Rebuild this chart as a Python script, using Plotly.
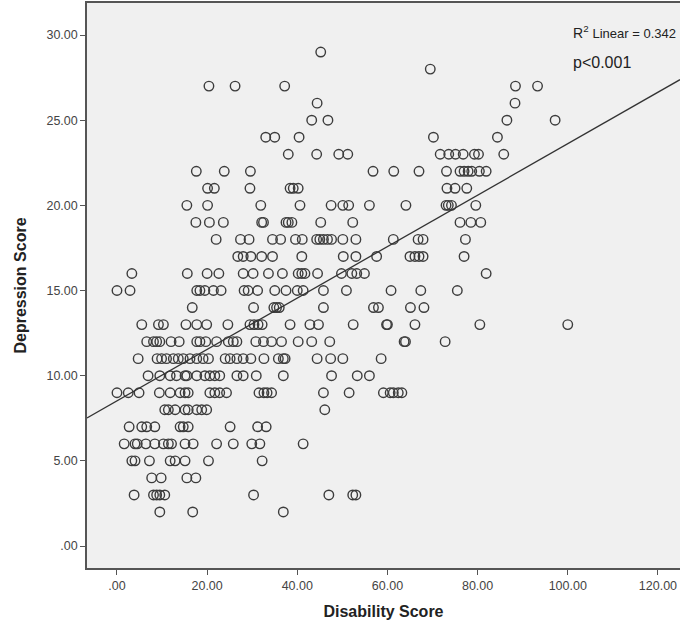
import plotly.graph_objects as go

# Depression score rows (integer values) and the disability scores read for each row
rows = {
    29: [45.2],
    28: [69.5],
    27: [20.4, 26.2, 37.2, 88.4, 93.3],
    26: [44.4, 88.3],
    25: [43.2, 46.8, 86.5, 97.2],
    24: [33.0, 35.0, 40.4, 70.2, 84.4],
    23: [38.0, 44.3, 49.2, 51.2, 71.7, 73.6, 75.1, 76.8, 79.3, 80.2, 85.8],
    22: [17.6, 23.8, 29.6, 56.8, 61.4, 67.0, 73.1, 76.1, 77.0, 77.9, 78.7, 80.4, 81.9],
    21: [20.1, 21.6, 29.5, 38.4, 39.1, 40.2, 73.2, 75.0, 77.6],
    20: [15.5, 20.1, 31.9, 40.6, 47.5, 50.1, 51.4, 56.0, 64.1, 73.0, 73.5, 74.2, 79.6],
    19: [17.5, 20.5, 23.6, 32.1, 32.5, 37.5, 38.0, 38.8, 45.2, 52.3, 76.1, 78.5, 80.7],
    18: [22.0, 27.4, 29.3, 34.5, 36.3, 39.6, 41.1, 44.3, 45.0, 45.8, 46.7, 47.6, 50.1,
         53.0, 61.3, 66.8, 67.9, 77.3],
    17: [26.8, 28.0, 29.7, 32.1, 34.5, 41.0, 50.2, 53.0, 57.6, 65.0, 66.1, 67.0, 67.9, 77.0],
    16: [3.3, 15.6, 20.0, 22.6, 28.0, 30.2, 33.6, 36.7, 40.2, 41.0, 41.7, 44.5, 49.8,
         52.1, 53.2, 54.9, 81.9],
    15: [0.0, 2.9, 17.7, 18.4, 19.5, 21.4, 23.1, 28.2, 29.1, 31.2, 35.0, 37.5, 40.0,
         41.3, 45.8, 50.9, 60.8, 67.4, 75.5],
    14: [16.7, 30.3, 34.8, 35.4, 36.0, 45.8, 56.9, 58.0, 65.1, 68.1],
    13: [5.5, 9.2, 10.3, 15.3, 17.7, 19.9, 24.6, 29.5, 30.4, 31.3, 32.2, 38.4, 42.8,
         44.7, 52.4, 59.8, 60.0, 66.1, 80.5, 100.0],
    12: [6.6, 8.1, 8.8, 9.5, 12.0, 13.8, 17.7, 18.4, 19.7, 22.1, 24.7, 25.8, 26.6, 30.8,
         32.5, 34.3, 36.5, 40.2, 43.2, 47.2, 63.7, 64.0, 72.8],
    11: [4.7, 8.9, 9.9, 11.0, 12.5, 13.6, 14.7, 16.2, 17.7, 19.1, 20.3, 24.0, 25.1, 26.6,
         28.0, 29.7, 32.6, 35.8, 36.9, 37.3, 44.4, 47.4, 50.1, 58.6],
    10: [6.9, 9.5, 11.8, 13.2, 15.1, 15.5, 17.7, 19.5, 20.6, 21.7, 22.8, 26.6, 28.0, 30.9,
         36.9, 47.6, 53.3, 56.0],
    9: [0.0, 2.5, 4.9, 9.4, 11.8, 14.0, 15.1, 15.8, 20.6, 21.7, 22.8, 24.3, 31.5, 32.6,
        33.3, 34.3, 45.8, 51.5, 59.1, 60.6, 61.3, 62.4, 63.2],
    8: [10.6, 11.4, 12.9, 15.1, 15.8, 17.7, 18.8, 19.9, 46.1],
    7: [2.7, 5.5, 6.6, 8.4, 14.0, 14.7, 15.8, 25.1, 31.2, 33.1],
    6: [1.6, 4.0, 4.5, 6.4, 8.4, 10.3, 11.4, 12.1, 15.1, 16.9, 22.1, 25.8, 29.9, 31.7, 41.3],
    5: [3.3, 4.0, 7.2, 11.8, 12.9, 15.1, 20.3, 32.2],
    4: [7.7, 9.8, 15.5, 17.5],
    3: [3.8, 8.1, 8.8, 9.5, 10.6, 30.3, 47.0, 52.3, 53.0],
    2: [9.5, 16.8, 36.9],
}

disability = [x for y, xs in rows.items() for x in xs]
depression = [y for y, xs in rows.items() for _ in xs]

fit_intercept = 8.52
fit_slope = 0.151

x_ticks = [0, 20, 40, 60, 80, 100, 120]
x_tick_labels = [".00", "20.00", "40.00", "60.00", "80.00", "100.00", "120.00"]
y_ticks = [0, 5, 10, 15, 20, 25, 30]
y_tick_labels = [".00", "5.00", "10.00", "15.00", "20.00", "25.00", "30.00"]

x_range = [-6.65, 124.9]
y_range = [-1.29, 31.88]

fig = go.Figure()
fig.add_trace(go.Scatter(
    x=disability, y=depression, mode="markers",
    marker=dict(symbol="circle-open", size=9.5, color="#3c3c3c", line=dict(width=1.4)),
    showlegend=False, hoverinfo="x+y",
))
fig.add_trace(go.Scatter(
    x=x_range, y=[fit_intercept + fit_slope * v for v in x_range], mode="lines",
    line=dict(color="#333333", width=1.3), showlegend=False, hoverinfo="skip",
))

tick_font = dict(family="Liberation Sans, Arial, sans-serif", size=12.5, color="#444444")
title_font = dict(family="Liberation Sans, Arial, sans-serif", size=16, color="#222222")

fig.update_layout(
    width=680, height=629,
    margin=dict(l=87, r=0, t=3, b=61),
    paper_bgcolor="white", plot_bgcolor="#f0f0f0",
    xaxis=dict(
        range=x_range, tickvals=x_ticks, ticktext=x_tick_labels,
        showgrid=False, zeroline=False, showline=True, mirror=True,
        linecolor="#555555", linewidth=1.5, ticks="outside", ticklen=5,
        tickcolor="#555555", tickfont=tick_font,
        title=dict(text="<b>Disability Score</b>", font=title_font, standoff=14),
    ),
    yaxis=dict(
        range=y_range, tickvals=y_ticks, ticktext=y_tick_labels,
        showgrid=False, zeroline=False, showline=True,
        linecolor="#555555", linewidth=1.5, ticks="outside", ticklen=5,
        tickcolor="#555555", tickfont=tick_font,
        title=dict(text="<b>Depression Score</b>", font=title_font, standoff=16),
    ),
)

fig.add_annotation(
    x=100.7, y=30.15, xref="x", yref="y", xanchor="left", yanchor="middle",
    text="R<sup>2</sup> <span style='font-size:13px'>Linear = 0.342</span>",
    showarrow=False, font=dict(family="Liberation Sans, Arial, sans-serif", size=14, color="#222222"),
)
fig.add_annotation(
    x=100.7, y=28.4, xref="x", yref="y", xanchor="left", yanchor="middle",
    text="p<0.001", showarrow=False,
    font=dict(family="Liberation Sans, Arial, sans-serif", size=16, color="#222222"),
)

fig.write_html("out.html", config={"displayModeBar": False},
               post_script="document.body.style.margin='0';")
